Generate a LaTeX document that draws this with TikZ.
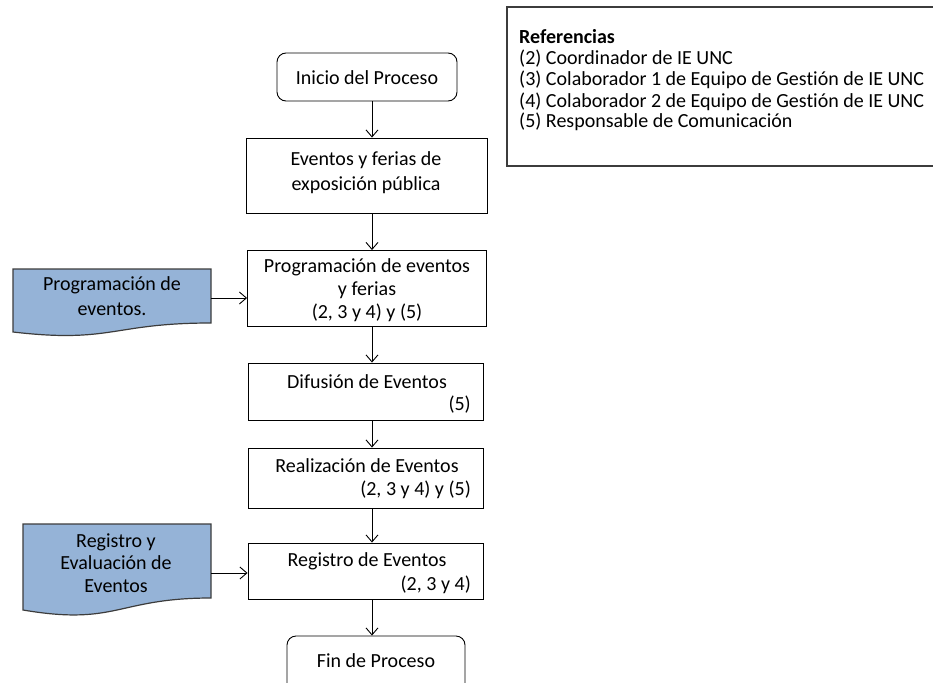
\documentclass[tikz,border=0pt]{standalone}
\usepackage{fontspec}
\setmainfont{Carlito}[Ligatures=NoCommon]
\usetikzlibrary{arrows.meta}
\definecolor{docblue}{RGB}{149,179,215}
\definecolor{docline}{RGB}{60,60,60}
\tikzset{
  procbox/.style={draw=black, line width=0.9pt, inner sep=0pt},
  termbox/.style={draw=black, line width=0.9pt, rounded corners=9pt, inner sep=0pt},
  docshape/.style={draw=docline, fill=docblue, line width=1.2pt},
  anchorbox/.style={inner sep=0pt},
  txt/.style={anchor=base, inner sep=0pt, font=\fontsize{20}{23}\selectfont},
  rtxt/.style={anchor=base east, inner sep=0pt, font=\fontsize{20}{23}\selectfont},
  ltxt/.style={anchor=base west, inner sep=0pt, font=\fontsize{20}{23}\selectfont},
  arr/.style={draw=black, line width=0.9pt, -{Straight Barb[length=7pt,width=12pt,line width=0.9pt]}},
}
\begin{document}
\begin{tikzpicture}[x=1pt,y=-1pt]
\useasboundingbox (0,0) rectangle (933,682);

% reference box
\draw[draw=docline, line width=1.3pt] (507,7) rectangle (945,166);
\node[ltxt] (r0) at (519,44) {\bfseries Referencias};
\node[ltxt] (r1) at (519,65) {(2) Coordinador de IE UNC};
\node[ltxt] (r2) at (519,86) {(3) Colaborador 1 de Equipo de Gestión de IE UNC};
\node[ltxt] (r3) at (519,107) {(4) Colaborador 2 de Equipo de Gestión de IE UNC};
\node[ltxt] (r4) at (519,128) {(5) Responsable de Comunicación};

% main flow boxes
\node[termbox, minimum width=180pt, minimum height=48pt] (inicio) at (367,77) {};
\node[txt] at (367,85) {Inicio del Proceso};

\node[procbox, minimum width=241pt, minimum height=75pt] (eventos) at (366.5,175.5) {};
\node[txt] at (366,165) {Eventos y ferias de};
\node[txt] at (366,190) {exposición pública};

\node[procbox, minimum width=239pt, minimum height=76pt] (prog) at (367,288.5) {};
\node[txt] at (367,272) {Programación de eventos};
\node[txt] at (367,295) {y ferias};
\node[txt] at (367,318) {(2, 3 y 4) y (5)};

\node[procbox, minimum width=235pt, minimum height=57pt] (difu) at (365.5,391.5) {};
\node[txt] at (367,388) {Difusión de Eventos};
\node[rtxt] at (471,410) {(5)};

\node[procbox, minimum width=235pt, minimum height=60pt] (real) at (365.5,478) {};
\node[txt] at (367,472) {Realización de Eventos};
\node[rtxt] at (471,495) {(2, 3 y 4) y (5)};

\node[procbox, minimum width=235pt, minimum height=56pt] (regev) at (365.5,571) {};
\node[txt] at (367,566) {Registro de Eventos};
\node[rtxt] at (471,590) {(2, 3 y 4)};

\node[termbox, minimum width=178pt, minimum height=56pt] (fin) at (376,664) {};
\node[txt] at (376,667) {Fin de Proceso};

% documents
\draw[docshape] (13,269) -- (211,269) -- (211,323)
  .. controls (112,323) and (112,343.5) .. (13,332) -- cycle;
\node[anchorbox, minimum width=198pt, minimum height=58pt] (doc1) at (112,298) {};
\node[txt] at (112,290) {Programación de};
\node[txt] at (112,315) {eventos.};

\draw[docshape] (23,524) -- (211,524) -- (211,598)
  .. controls (117,598) and (117,626) .. (23,610) -- cycle;
\node[anchorbox, minimum width=188pt, minimum height=74pt] (doc2) at (117,573) {};
\node[txt] at (116,547) {Registro y};
\node[txt] at (116,569) {Evaluación de};
\node[txt] at (116,592) {Eventos};

% connectors
\draw[arr] (inicio.south -| 372,0) -- (eventos.north -| 372,0);
\draw[arr] (eventos.south -| 372,0) -- (prog.north -| 372,0);
\draw[arr] (prog.south -| 372,0) -- (difu.north -| 372,0);
\draw[arr] (difu.south -| 372,0) -- (real.north -| 372,0);
\draw[arr] (real.south -| 372,0) -- (regev.north -| 372,0);
\draw[arr] (regev.south -| 372,0) -- (fin.north -| 372,0);
\draw[arr] (doc1.east) -- (doc1.east -| prog.west);
\draw[arr] (doc2.east) -- (doc2.east -| regev.west);
\end{tikzpicture}
\end{document}
